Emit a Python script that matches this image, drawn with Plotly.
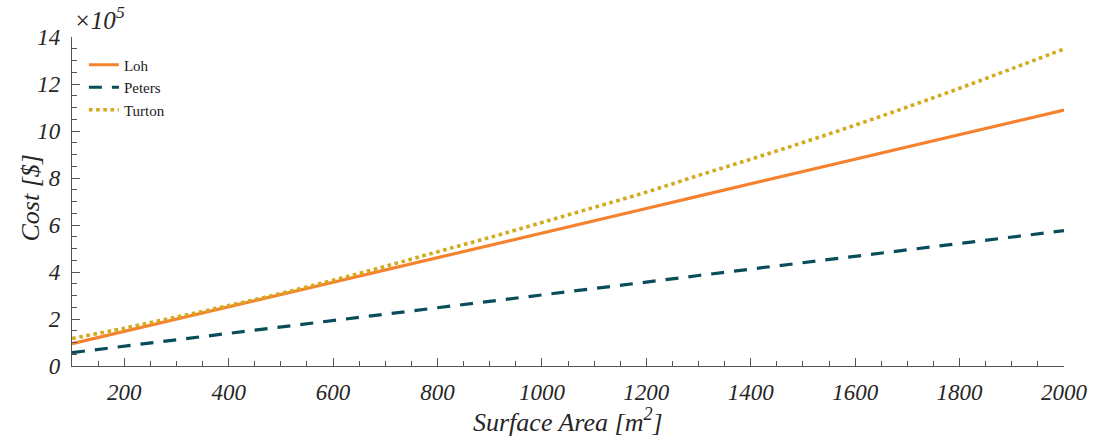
import plotly.graph_objects as go

# Surface area of the exchanger [m^2]
area = [100, 200, 300, 400, 500, 600, 700, 800, 900, 1000,
        1100, 1200, 1300, 1400, 1500, 1600, 1700, 1800, 1900, 2000]

# Purchase cost estimates [x10^5 $]
cost_loh = [0.95, 1.47, 2.00, 2.52, 3.04, 3.57, 4.09, 4.61, 5.13, 5.66,
            6.18, 6.70, 7.23, 7.75, 8.27, 8.80, 9.32, 9.84, 10.37, 10.89]
cost_peters = [0.57, 0.84, 1.12, 1.39, 1.66, 1.94, 2.21, 2.48, 2.75, 3.03,
               3.30, 3.57, 3.85, 4.12, 4.39, 4.67, 4.94, 5.21, 5.48, 5.76]
cost_turton = [1.17, 1.61, 2.08, 2.57, 3.09, 3.65, 4.24, 4.86, 5.47, 6.11,
               6.75, 7.40, 8.11, 8.80, 9.51, 10.25, 11.02, 11.82, 12.65, 13.49]

x_ticks = [200, 400, 600, 800, 1000, 1200, 1400, 1600, 1800, 2000]
y_ticks = [0, 2, 4, 6, 8, 10, 12, 14]

SERIF = "Liberation Serif"
TEXT = "#262626"
AXIS = "#555555"


def ital(s):
    return "<i>" + s + "</i>"


fig = go.Figure()
fig.add_trace(go.Scatter(x=area, y=cost_loh, mode="lines", name="Loh",
                         line=dict(color="#F5822F", width=3.2)))
fig.add_trace(go.Scatter(x=area, y=cost_peters, mode="lines", name="Peters",
                         line=dict(color="#0A4D5A", width=3.2, dash="13px,10px")))
fig.add_trace(go.Scatter(x=area, y=cost_turton, mode="lines", name="Turton",
                         line=dict(color="#D2AA1C", width=3.6, dash="dot", shape="spline")))

axis_common = dict(
    showline=True, linecolor=AXIS, linewidth=1.3, mirror=False,
    showgrid=False, zeroline=False, automargin=False,
    ticks="inside", ticklen=8, tickwidth=1.2, tickcolor=AXIS,
    tickfont=dict(family=SERIF, size=23, color=TEXT),
)

fig.update_xaxes(
    range=[100, 2000], tickvals=x_ticks, ticktext=[ital(str(v)) for v in x_ticks],
    ticklabelstandoff=5,
    minor=dict(ticks="inside", ticklen=5, tickwidth=1.1, tickcolor=AXIS,
               dtick=50, tick0=0, showgrid=False),
    **axis_common,
)
fig.update_yaxes(
    range=[0, 14], tickvals=y_ticks, ticktext=[ital(str(v)) for v in y_ticks],
    ticklabelstandoff=6,
    minor=dict(ticks="inside", ticklen=5, tickwidth=1.1, tickcolor=AXIS,
               dtick=0.5, tick0=0, showgrid=False),
    **axis_common,
)

# Axis titles and the exponent label
title_font = dict(family=SERIF, size=26, color=TEXT)
fig.add_annotation(
    text=ital("Surface Area [m<sup>2</sup>]"), xref="paper", yref="paper",
    x=0.5, y=-0.166, xanchor="center", yanchor="middle", showarrow=False,
    font=title_font,
)
fig.add_annotation(
    text=ital("Cost [$]"), xref="paper", yref="paper",
    x=-0.042, y=0.51, xanchor="center", yanchor="middle", showarrow=False,
    textangle=-90, font=title_font,
)
fig.add_annotation(
    text=ital("\u00d710<sup>5</sup>"), xref="paper", yref="paper", x=0, y=1,
    xanchor="left", yanchor="bottom", showarrow=False, xshift=0, yshift=1,
    font=dict(family=SERIF, size=25, color=TEXT),
)

fig.update_layout(
    width=1098, height=439,
    margin=dict(l=72, r=34, t=37, b=73),
    paper_bgcolor="white", plot_bgcolor="white",
    showlegend=True,
    legend=dict(x=0.012, y=0.965, xanchor="left", yanchor="top",
                bgcolor="rgba(0,0,0,0)", borderwidth=0,
                font=dict(family=SERIF, size=15, color="#1a1a1a"),
                tracegroupgap=0, itemwidth=30),
)

fig.write_html("out.html")
